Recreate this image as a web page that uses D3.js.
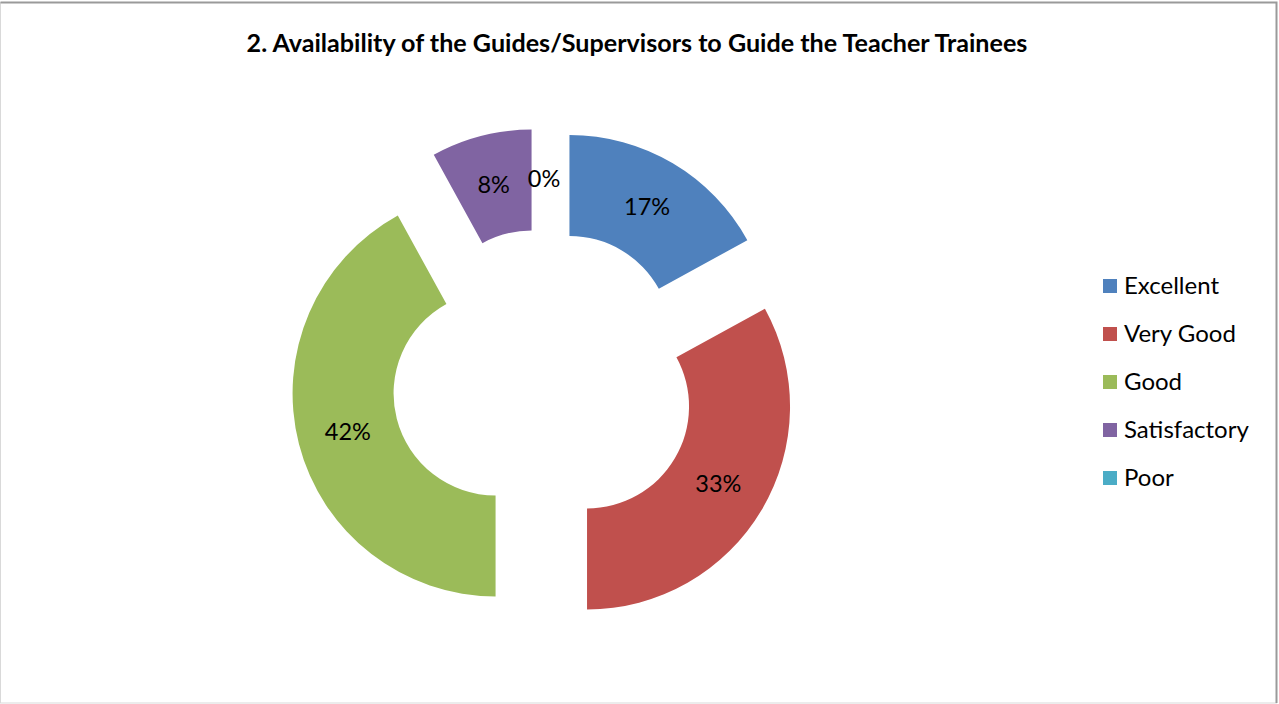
<!DOCTYPE html>
<html>
<head>
<meta charset="utf-8">
<script src="https://cdn.jsdelivr.net/npm/d3@7"></script>
<style>
  html, body { margin: 0; padding: 0; background: #fff; }
  svg text { font-family: Lato, "Open Sans", sans-serif; }
</style>
</head>
<body>
<svg id="chart" width="1279" height="704"></svg>
<script>
// chart data
const categories = ['Excellent', 'Very Good', 'Good', 'Satisfactory', 'Poor'];
const values = [17, 33, 42, 8, 0];
const percentLabels = ['17%', '33%', '42%', '8%', '0%'];
const colors = ['#4F81BD', '#C0504D', '#9BBB59', '#8064A2', '#4BACC6'];
const chartTitle = '2. Availability of the Guides/Supervisors to Guide the Teacher Trainees';

const width = 1279;
const height = 704;
const center = { x: 544, y: 381 };
const outerRadius = 203;
const innerRadius = 102;
const explode = 50;

const svg = d3.select('#chart');

// frame
svg.append('rect')
    .attr('x', 0.5).attr('y', 2.5)
    .attr('width', width - 3).attr('height', height - 3.5)
    .attr('fill', '#fff')
    .attr('stroke', '#d9d9d9');
svg.append('path')
    .attr('d', `M0.5,2.5 H${width - 2.5} V${height - 1}`)
    .attr('fill', 'none')
    .attr('stroke', '#9a9a9a')
    .attr('stroke-width', 2);

const title = svg.append('text')
    .attr('x', 637)
    .attr('y', 52)
    .attr('text-anchor', 'middle')
    .attr('font-size', '20px')
    .attr('font-weight', 'bold')
    .attr('fill', '#000')
    .text(chartTitle);

// fit the title to the width it has in the original (Calibri is not installed)
const titleWidth = title.node().getComputedTextLength();
title.attr('font-size', `${20 * 781 / titleWidth}px`);

const pie = d3.pie().sort(null).value(d => d);
const arcs = pie(values);

const arc = d3.arc().innerRadius(innerRadius).outerRadius(outerRadius);
const labelArc = d3.arc().innerRadius((innerRadius + outerRadius) / 2)
    .outerRadius((innerRadius + outerRadius) / 2);

const offset = (d) => {
    const a = (d.startAngle + d.endAngle) / 2;
    return [Math.sin(a) * explode, -Math.cos(a) * explode];
};

const g = svg.append('g')
    .attr('transform', `translate(${center.x}, ${center.y})`);

const slices = g.selectAll('g.slice')
    .data(arcs)
    .join('g')
        .attr('class', 'slice')
        .attr('transform', d => {
            const [dx, dy] = offset(d);
            return `translate(${dx}, ${dy})`;
        });

slices.append('path')
    .attr('d', arc)
    .attr('fill', (d, i) => colors[i]);

slices.append('text')
    .attr('transform', d => `translate(${labelArc.centroid(d)})`)
    .attr('text-anchor', 'middle')
    .attr('dy', '0.35em')
    .attr('font-size', '23.5px')
    .attr('fill', '#000')
    .text((d, i) => percentLabels[i]);

// legend
const legend = svg.append('g')
    .attr('transform', 'translate(1103, 279)');

const legendItem = legend.selectAll('g')
    .data(categories)
    .join('g')
        .attr('transform', (d, i) => `translate(0, ${i * 48})`);

legendItem.append('rect')
    .attr('width', 14)
    .attr('height', 14)
    .attr('fill', (d, i) => colors[i]);

legendItem.append('text')
    .attr('x', 21)
    .attr('y', 7)
    .attr('dy', '0.35em')
    .attr('font-size', '24px')
    .attr('fill', '#000')
    .text(d => d);
</script>
</body>
</html>
